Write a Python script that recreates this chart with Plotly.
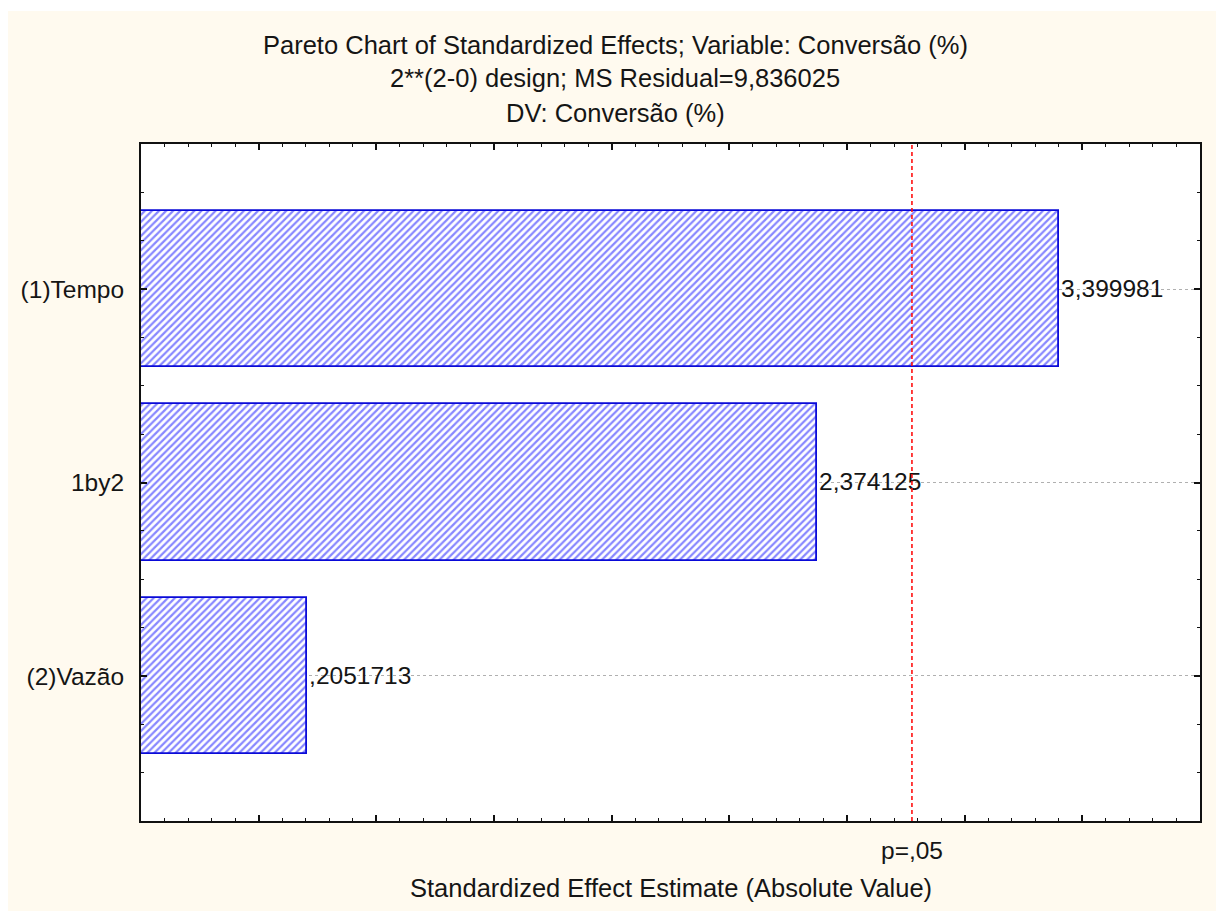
import plotly.graph_objects as go

# Effects (largest first) and their standardized estimates
effects = ["(1)Tempo", "1by2", "(2)Vazão"]
estimates = [3.399981, 2.374125, 0.2051713]

# Critical t value for p = 0.05 (two-sided, 4 residual df)
t_crit = 2.776
p_label = "p=,05"

title_lines = [
    "Pareto Chart of Standardized Effects; Variable: Conversão (%)",
    "2**(2-0) design; MS Residual=9,836025",
    "DV: Conversão (%)",
]
x_title = "Standardized Effect Estimate (Absolute Value)"

x_min, x_max = -0.5, 4.0

W, H = 1216, 911
L, R, T, B = 141, 16, 144, 90
PW, PH = W - L - R, H - T - B


def px(xp):
    return (xp - L) / PW


def py(yp):
    return (H - B - yp) / PH


def fmt(v):
    s = f"{v:.7g}".replace(".", ",")
    return s[1:] if s.startswith("0,") else s


FONT = "Arial, Liberation Sans, sans-serif"
TXT = "#151515"
positions = list(range(len(effects)))

fig = go.Figure()
fig.add_trace(go.Bar(
    orientation="h",
    y=positions,
    x=[v - x_min for v in estimates],
    base=[x_min] * len(estimates),
    width=0.81,
    marker=dict(
        color="white",
        line=dict(color="#0a0ad8", width=1.8),
        pattern=dict(shape="/", fgcolor="#1010ff", bgcolor="white",
                     size=5, solidity=0.45),
    ),
    text=[fmt(v) for v in estimates],
    textposition="outside",
    constraintext="none",
    cliponaxis=False,
    outsidetextfont=dict(family=FONT, size=24.5, color=TXT),
    hoverinfo="skip",
    showlegend=False,
))

# significance threshold
fig.add_shape(type="line", xref="x", yref="paper", x0=t_crit, x1=t_crit,
              y0=0, y1=1, line=dict(color="#ff1010", width=1.6, dash="4px,3px"))

annotations = []
for line, yc in zip(title_lines, [45, 78, 113]):
    annotations.append(dict(text=line, xref="paper", yref="paper",
                            x=px(615), y=py(yc), xanchor="center", yanchor="middle",
                            showarrow=False, font=dict(family=FONT, size=25.5, color=TXT)))
annotations.append(dict(text=p_label, xref="x", yref="paper", x=t_crit, y=py(850),
                        xanchor="center", yanchor="middle", showarrow=False,
                        font=dict(family=FONT, size=24.5, color=TXT)))
annotations.append(dict(text=x_title, xref="paper", yref="paper", x=px(671), y=py(888),
                        xanchor="center", yanchor="middle", showarrow=False,
                        font=dict(family=FONT, size=25.5, color=TXT)))

# white border strips around the cream page
shapes = [
    dict(type="rect", xref="paper", yref="paper", x0=px(0), x1=px(8), y0=py(H), y1=py(0),
         fillcolor="white", line=dict(width=0), layer="below"),
    dict(type="rect", xref="paper", yref="paper", x0=px(0), x1=px(W), y0=py(11), y1=py(0),
         fillcolor="white", line=dict(width=0), layer="below"),
]
for s in shapes:
    fig.add_shape(**s)

fig.update_layout(
    width=W, height=H,
    margin=dict(l=L, r=R, t=T, b=B, pad=0),
    paper_bgcolor="#fffaef",
    plot_bgcolor="white",
    font=dict(family=FONT, size=24, color=TXT),
    annotations=annotations,
    bargap=0,
)
fig.update_xaxes(
    range=[x_min, x_max], showgrid=False, zeroline=False,
    showline=True, linecolor="#111111", linewidth=2, mirror="ticks",
    ticks="inside", ticklen=6, tickwidth=1.5, tickcolor="#111111",
    tickmode="linear", tick0=0, dtick=0.5, showticklabels=False,
    minor=dict(ticks="inside", ticklen=3, tickwidth=1.2, tickcolor="#111111",
               tickmode="linear", tick0=0, dtick=0.1, showgrid=False),
)
fig.update_yaxes(
    range=[len(effects) - 0.25, -0.75], showgrid=True, gridcolor="#b0b0b0",
    griddash="dot", gridwidth=1, zeroline=False,
    showline=True, linecolor="#111111", linewidth=2, mirror="ticks",
    ticks="inside", ticklen=6, tickwidth=1.5, tickcolor="#111111",
    tickmode="array", tickvals=positions, ticktext=effects,
    ticklabelstandoff=10,
    tickfont=dict(family=FONT, size=24.5, color=TXT),
    minor=dict(ticks="inside", ticklen=3, tickwidth=1.2, tickcolor="#111111",
               tickmode="linear", tick0=0, dtick=0.25, showgrid=False),
)

fig.write_html("out.html")
